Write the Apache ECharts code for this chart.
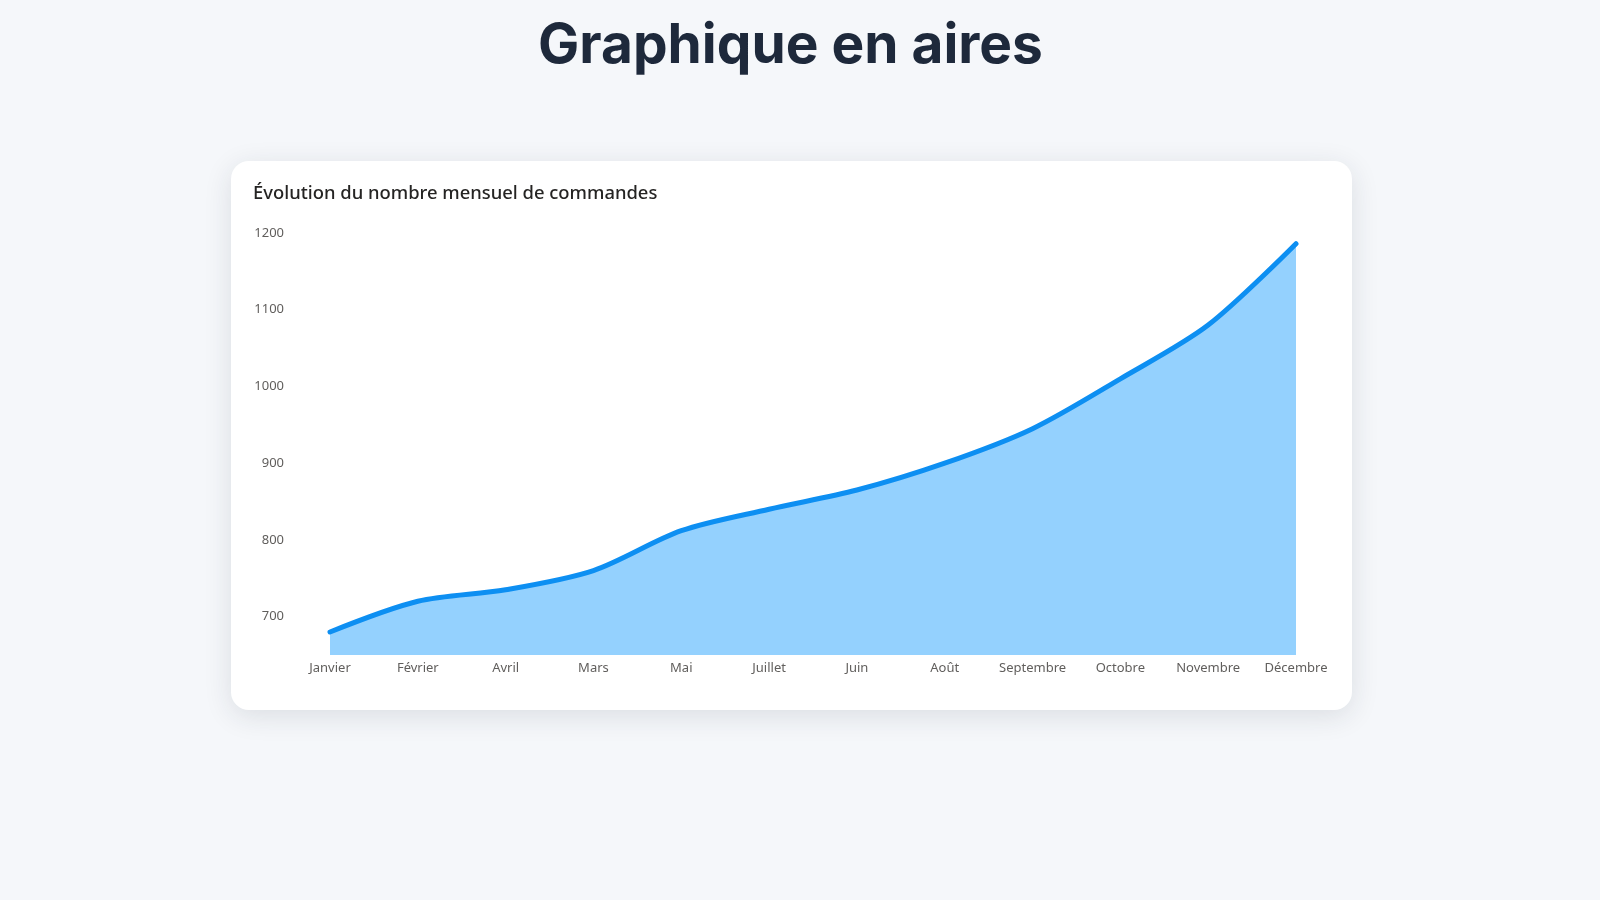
<!DOCTYPE html>
<html lang="fr">
<head>
<meta charset="utf-8">
<title>Graphique en aires</title>
<script src="https://cdn.jsdelivr.net/npm/echarts@6/dist/echarts.min.js"></script>
<style>
  html, body { margin: 0; padding: 0; background: #f5f7fa; width: 1600px; height: 900px; overflow: hidden; }
  h1 {
    position: absolute; left: 0; width: 1581px; top: 8px; margin: 0;
    text-align: center; font-family: "Inter", "Lato", sans-serif; font-weight: 700;
    font-size: 55px; line-height: 70px; color: #1e293b; letter-spacing: 0px;
  }
  #card {
    position: absolute; left: 231px; top: 161px; width: 1121px; height: 549px;
    background: #ffffff; border-radius: 18px;
    box-shadow: 0 6px 28px rgba(30, 41, 59, 0.12);
  }
  #chart { width: 1121px; height: 549px; }
</style>
</head>
<body>
<h1>Graphique en aires</h1>
<div id="card"><div id="chart"></div></div>
<script>
const chartTitle = "Évolution du nombre mensuel de commandes";
const months = ["Janvier", "Février", "Avril", "Mars", "Mai", "Juillet", "Juin", "Août", "Septembre", "Octobre", "Novembre", "Décembre"];
const orders = [680, 720, 735, 760, 812, 840, 865, 900, 945, 1010, 1080, 1186];
const yMin = 650;
const yMax = 1200;
const yStep = 50;
const yLabelStep = 100;

const chart = echarts.init(document.getElementById('chart'), null, { renderer: 'canvas' });
chart.setOption({
  animation: false,
  title: {
    text: chartTitle,
    left: 17, top: 19,
    textStyle: { fontFamily: "Noto Sans", fontSize: 18.4, fontWeight: 500, color: "#252423" }
  },
  grid: { left: 99, right: 56, top: 72, bottom: 55 },
  xAxis: {
    type: 'category',
    data: months,
    boundaryGap: false,
    axisLine: { show: false },
    axisTick: { show: false },
    axisLabel: { color: "#605e5c", fontFamily: "Noto Sans", fontSize: 13, margin: 7, interval: 0 }
  },
  yAxis: {
    type: 'value',
    min: yMin, max: yMax, interval: yStep,
    splitLine: { show: false },
    axisLine: { show: false },
    axisTick: { show: false },
    axisLabel: {
      color: "#605e5c", fontFamily: "Noto Sans", fontSize: 13, margin: 46,
      formatter: v => (v % yLabelStep === 0 ? String(v) : '')
    }
  },
  series: [{
    type: 'line',
    data: orders,
    smooth: 0.3,
    symbol: 'none',
    lineStyle: { color: "#0D8FF2", width: 5, cap: 'round' },
    areaStyle: { color: "#94D1FE", opacity: 1 }
  }]
});
</script>
</body>
</html>
